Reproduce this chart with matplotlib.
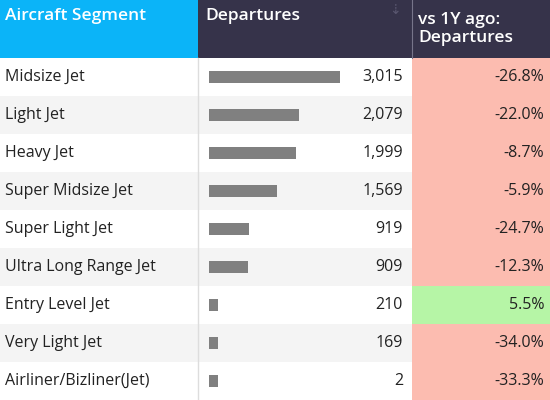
import matplotlib
matplotlib.use("Agg")
import matplotlib.pyplot as plt
from matplotlib.patches import Rectangle

segments = ["Midsize Jet", "Light Jet", "Heavy Jet", "Super Midsize Jet", "Super Light Jet",
            "Ultra Long Range Jet", "Entry Level Jet", "Very Light Jet", "Airliner/Bizliner(Jet)"]
departures = [3015, 2079, 1999, 1569, 919, 909, 210, 169, 2]
change = [-26.8, -22.0, -8.7, -5.9, -24.7, -12.3, 5.5, -34.0, -33.3]

plt.rcParams['font.family'] = ['Open Sans', 'DejaVu Sans']
W, H = 550, 400
fig = plt.figure(figsize=(5.5, 4), dpi=100)
ax = fig.add_axes([0, 0, 1, 1])
ax.set_xlim(0, W); ax.set_ylim(H, 0); ax.axis('off')

hh, rh = 58, 38
c1, c2 = 198, 412
ax.add_patch(Rectangle((0, 0), c1, hh, color='#0bb4f8', lw=0))
ax.add_patch(Rectangle((c1, 0), W - c1, hh, color='#36334a', lw=0))
ax.text(5, 16, "Aircraft Segment", color='white', fontsize=12.5, fontweight='semibold', va='center')
ax.text(c1 + 7, 16, "Departures", color='white', fontsize=12.5, fontweight='semibold', va='center')
ax.text(c2 + 6, 29, "vs 1Y ago:\nDepartures", color='white', fontsize=12.5, fontweight='semibold',
        va='center', linespacing=1.25)
ax.text(395, 10, "⇣", color='#5a5770', fontsize=10, va='center', ha='center')
ax.plot([c2, c2], [0, hh], color='#77758a', lw=0.8)

scale = 131 / 3015
ys = [hh + rh * i + rh / 2 for i in range(len(segments))]
for i, (s, d, c) in enumerate(zip(segments, departures, change)):
    top = hh + rh * i
    bg = '#ffffff' if i % 2 == 0 else '#f4f4f4'
    ax.add_patch(Rectangle((0, top), c2, rh, color=bg, lw=0))
    ax.add_patch(Rectangle((c2, top), W - c2, rh, color='#b6f5a6' if c > 0 else '#fcbcb0', lw=0))
    ax.text(5, ys[i], s, fontsize=11.5, color='#222222', va='center')
    ax.text(c2 - 9, ys[i], f"{d:,}", fontsize=11.5, color='#222222', va='center', ha='right')
    ax.text(W - 6, ys[i], f"{c:.1f}%", fontsize=11.5, color='#222222', va='center', ha='right')
ax.barh(ys, [max(d * scale, 9) for d in departures], left=209, height=12, color='#808080')
ax.plot([c1, c1], [hh, H], color='#dddddd', lw=1)
fig.savefig("out.png", dpi=100)
